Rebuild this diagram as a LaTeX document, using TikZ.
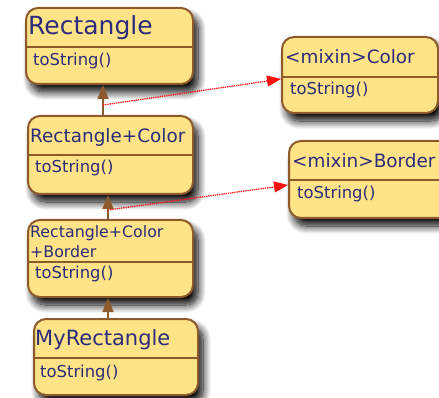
\documentclass[tikz,border=0pt]{standalone}
\usepackage{fontspec}
\setmainfont{DejaVu Sans}
\usetikzlibrary{arrows.meta,shadows.blur}
\definecolor{boxfill}{HTML}{FFE386}
\definecolor{boxline}{HTML}{8E5A2C}
\definecolor{ink}{HTML}{2B2B7C}
\definecolor{mixred}{HTML}{FF1010}
\tikzset{
  classbox/.style={draw=boxline, line width=2pt, fill=boxfill, rounded corners=12pt,
    inner sep=0pt, anchor=north west,
    blur shadow={shadow xshift=5pt, shadow yshift=-8pt, shadow blur radius=8pt,
                 shadow blur steps=12, shadow opacity=100}},
  divider/.style={draw=boxline, line width=2pt},
  label/.style={inner sep=0pt, anchor=base west, text=ink},
  bigtitle/.style={label, font=\fontsize{25}{30}\selectfont},
  midtitle/.style={label, font=\fontsize{21}{25}\selectfont},
  title/.style={label, font=\fontsize{18.4}{22}\selectfont},
  smalltitle/.style={label, font=\fontsize{15.8}{19}\selectfont},
  op/.style={label, font=\fontsize{16.4}{20}\selectfont},
  inherit/.style={draw=boxline, line width=1.6pt, -{Triangle[length=14pt,width=11pt]}},
  mixin/.style={draw=mixred, line width=1.3pt, dash pattern=on 1.3pt off 0.9pt,
    -{Triangle[length=14pt,width=11pt,fill=mixred]}}
}
\begin{document}
\begin{tikzpicture}[x=1pt,y=-1pt]
\useasboundingbox (0,0) rectangle (439,398);
\clip (0,0) rectangle (439,398);

% class boxes
\node[classbox, minimum width=167pt, minimum height=76pt] (r1) at (25,7) {};
\node[classbox, minimum width=165pt, minimum height=78pt] (r2) at (27,115) {};
\node[classbox, minimum width=165pt, minimum height=77pt] (r3) at (27,219) {};
\node[classbox, minimum width=164pt, minimum height=76pt] (r4) at (33,318) {};
\node[classbox, minimum width=156pt, minimum height=76pt] (c) at (281,36) {};
\node[classbox, minimum width=182pt, minimum height=77pt] (b) at (288,140) {};

% compartment dividers
\draw[divider] (r1.west |- 0,47) -- (r1.east |- 0,47);
\draw[divider] (r2.west |- 0,155) -- (r2.east |- 0,155);
\draw[divider] (r3.west |- 0,262) -- (r3.east |- 0,262);
\draw[divider] (r4.west |- 0,358) -- (r4.east |- 0,358);
\draw[divider] (c.west |- 0,77) -- (c.east |- 0,77);
\draw[divider] (b.west |- 0,180) -- (b.east |- 0,180);

% names and operations
\node[bigtitle] (r1n) at (28,35) {Rectangle};
\node[op] (r1o) at (33,66) {toString()};
\node[title] (r2n) at (30,143) {Rectangle+Color};
\node[op] (r2o) at (35,173) {toString()};
\node[smalltitle] (r3n) at (30,237) {Rectangle+Color};
\node[smalltitle] (r3m) at (30,257) {+Border};
\node[op] (r3o) at (35,278) {toString()};
\node[midtitle] (r4n) at (35,345) {MyRectangle};
\node[op] (r4o) at (40,377) {toString()};
\node[title] (cn) at (285,64) {<mixin>Color};
\node[op] (co) at (290,95) {toString()};
\node[title] (bn) at (292,168) {<mixin>Border};
\node[op] (bo) at (297,199) {toString()};

% inheritance chain
\draw[inherit] (r2.north -| 103,0) -- (r1.south -| 103,0);
\draw[inherit] (r3.north -| 108,0) -- (r2.south -| 108,0);
\draw[inherit] (r4.north -| 108,0) -- (r3.south -| 108,0);

% mixin dependencies
\coordinate (j1) at (103,105);
\coordinate (j2) at (108,210);
\draw[mixin] (j1) -- (c.west |- 0,79);
\draw[mixin] (j2) -- (b.west |- 0,185);
\end{tikzpicture}
\end{document}
